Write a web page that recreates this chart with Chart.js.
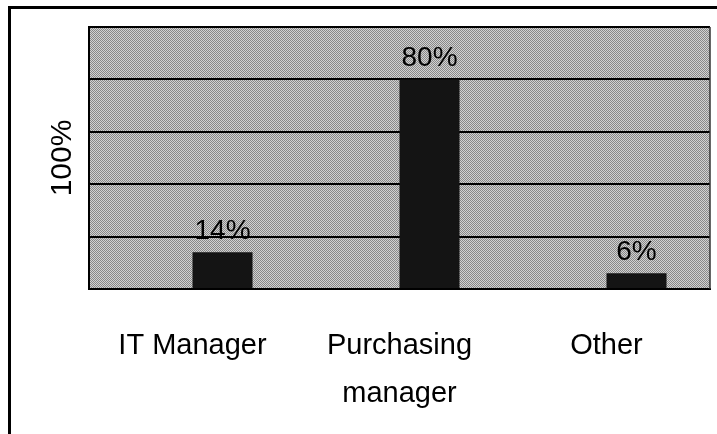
<!DOCTYPE html>
<html>
<head>
<meta charset="utf-8">
<script src="https://cdn.jsdelivr.net/npm/chart.js@4.4.1/dist/chart.umd.min.js"></script>
<style>
  body { margin: 0; background: #fff; }
  canvas { display: block; }
</style>
</head>
<body>
<canvas id="myChart" width="717" height="434"></canvas>
<script>
// values
const categories = ["IT Manager", ["Purchasing", "manager"], "Other"];
const shareValues = [14, 80, 6];
// the sheet had an empty first series, it only pushes the bars right of centre
const emptyValues = [0, 0, 0];
const axisTitle = "100%";
const yMin = 0;
const yMax = 100;
const yStep = 20;

const fontFamily = "'Liberation Sans', Arial, sans-serif";

// small grey dither for the plot area
const patternCanvas = document.createElement("canvas");
patternCanvas.width = 2;
patternCanvas.height = 2;
const pctx = patternCanvas.getContext("2d");
pctx.fillStyle = "#d2d2d2";
pctx.fillRect(0, 0, 2, 2);
pctx.fillStyle = "#888";
pctx.fillRect(0, 0, 1, 1);
pctx.fillRect(1, 1, 1, 1);

const backdrop = {
  id: "backdrop",
  beforeDraw(chart) {
    const { ctx, chartArea: a } = chart;
    ctx.save();
    ctx.fillStyle = "#fff";
    ctx.fillRect(0, 0, chart.width, chart.height);
    // outer frame, only top and left show in the picture
    ctx.fillStyle = "#000";
    ctx.fillRect(8, 6, chart.width, 3);
    ctx.fillRect(8, 6, 3, chart.height);
    ctx.fillStyle = ctx.createPattern(patternCanvas, "repeat");
    ctx.fillRect(a.left, a.top, a.right - a.left, a.bottom - a.top);
    ctx.restore();
  },
  afterDraw(chart) {
    const { ctx, chartArea: a } = chart;
    ctx.save();
    ctx.strokeStyle = "#333";
    ctx.lineWidth = 1.5;
    ctx.beginPath();
    ctx.moveTo(a.right, a.top);
    ctx.lineTo(a.right, a.bottom);
    ctx.stroke();
    ctx.restore();
  },
};

const valueLabels = {
  id: "valueLabels",
  afterDatasetsDraw(chart) {
    const { ctx } = chart;
    const meta = chart.getDatasetMeta(1);
    ctx.save();
    ctx.fillStyle = "#000";
    ctx.font = "28px " + fontFamily;
    ctx.textAlign = "center";
    ctx.textBaseline = "alphabetic";
    meta.data.forEach((bar, i) => {
      ctx.fillText(shareValues[i] + "%", bar.x, bar.y - 13);
    });
    ctx.restore();
  },
};

const ctx = document.getElementById("myChart").getContext("2d");
const myChart = new Chart(ctx, {
  type: "bar",
  data: {
    labels: categories,
    datasets: [
      {
        label: "empty",
        data: emptyValues,
        backgroundColor: "rgba(0,0,0,0)",
      },
      {
        label: "Share",
        data: shareValues,
        backgroundColor: "#141414",
        borderWidth: 0,
      },
    ],
  },
  options: {
    responsive: false,
    animation: false,
    categoryPercentage: 0.58,
    barPercentage: 1.0,
    layout: {
      padding: { left: 45, top: 27, right: 7, bottom: 0 },
    },
    plugins: {
      legend: { display: false },
      tooltip: { enabled: false },
    },
    scales: {
      x: {
        grid: { display: false, drawTicks: false },
        border: { display: true, color: "#000", width: 2 },
        ticks: {
          color: "#000",
          padding: 33,
          maxRotation: 0,
          autoSkip: false,
          font: { family: fontFamily, size: 29, lineHeight: 1.66 },
        },
        afterFit(scale) {
          scale.height = 145;
        },
      },
      y: {
        min: yMin,
        max: yMax,
        ticks: { display: false, stepSize: yStep },
        grid: { color: "#000", lineWidth: 2, drawTicks: false },
        border: { display: true, color: "#000", width: 2 },
        title: {
          display: true,
          text: axisTitle,
          color: "#000",
          padding: 0,
          font: { family: fontFamily, size: 30 },
        },
        afterFit(scale) {
          scale.width = 44;
        },
      },
    },
  },
  plugins: [backdrop, valueLabels],
});
</script>
</body>
</html>
